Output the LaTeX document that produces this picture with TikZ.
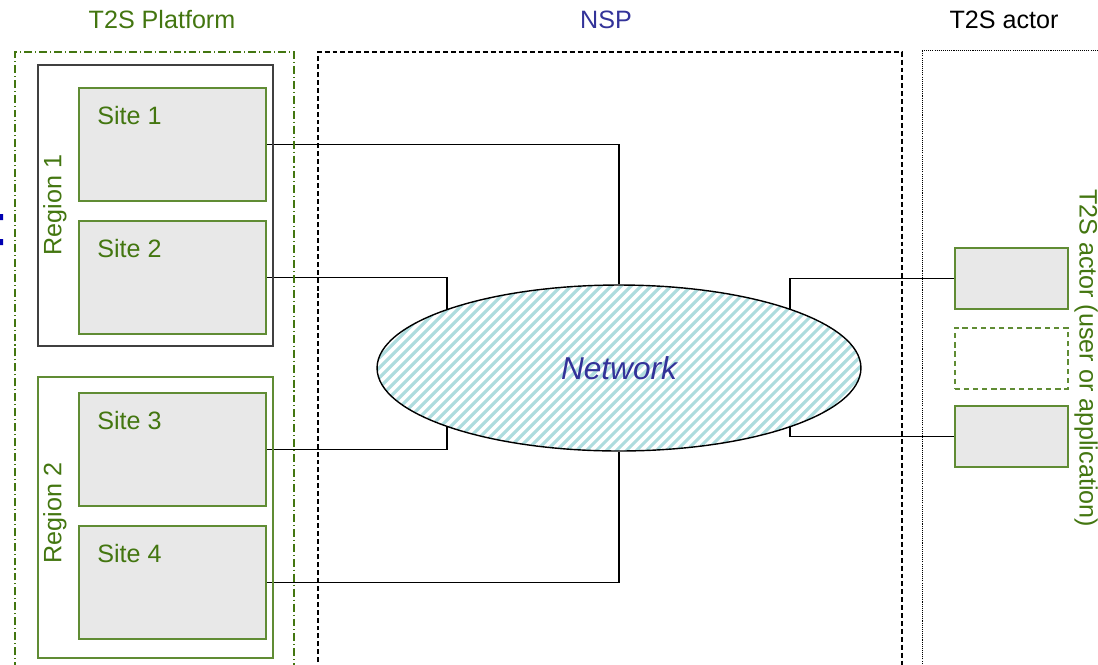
\documentclass[tikz,border=0pt]{standalone}
\usepackage{fontspec}
\setmainfont{Liberation Sans}
\usepackage{xcolor}
\usepackage{tikz}
\usetikzlibrary{shapes.geometric,calc,positioning}
\definecolor{platgreen}{RGB}{67,118,16}
\definecolor{edgegreen}{RGB}{96,140,52}
\definecolor{nspblue}{RGB}{51,51,153}
\definecolor{sitegray}{RGB}{232,232,232}
\definecolor{stripeteal}{RGB}{174,220,222}
\definecolor{regiongray}{RGB}{64,64,64}
\pgfdeclarelayer{background}
\pgfsetlayers{background,main}

\begin{document}
\begin{tikzpicture}[x=0.02cm,y=-0.02cm,
    txt/.style={font=\fontsize{14.3}{17}\selectfont},
    site/.style={draw=edgegreen,line width=0.9pt,fill=sitegray,anchor=north west,
      inner sep=0,minimum width=3.74cm,minimum height=2.26cm},
    sitelabel/.style={txt,text=platgreen,inner sep=0,anchor=north west},
    actorbox/.style={draw=edgegreen,line width=0.9pt,fill=sitegray,anchor=north west,
      inner sep=0,minimum width=2.26cm,minimum height=1.22cm},
    link/.style={line width=0.8pt,black},
    stripe/.style={line width=1.8pt,stripeteal}]
    \clip (0,0) rectangle (1098,664);
    % column titles
    \node[txt,text=platgreen] (platT) at (162,20) {T2S Platform};
    \node[txt,text=nspblue] (nspT) at (606,20) {NSP};
    \node[txt] (actorT) at (1004,20) {T2S actor};
    % frames, open at the bottom
    \draw[platgreen,line width=0.6pt,dash pattern=on 4.5pt off 1.7pt on 0.6pt off 1.7pt]
      (15,670) |- (294,52) -- (294,670);
    \draw[black,line width=0.6pt,dash pattern=on 2.8pt off 1.7pt] (318,670) |- (902,52) -- (902,670);
    \draw[black,line width=0.5pt,dash pattern=on 0.6pt off 0.6pt] (922,670) |- (1110,50);
    \fill[blue!70!black] (0,214) rectangle (3,220) (0,239) rectangle (3,245);
    % regions
    \draw[regiongray,line width=1.1pt] (38,65) rectangle (273,346);
    \draw[edgegreen,line width=0.9pt] (38,377) rectangle (273,658);
    \node[txt,text=platgreen,rotate=90] (reg1) at (55,205) {Region 1};
    \node[txt,text=platgreen,rotate=90] (reg2) at (55,513) {Region 2};
    % sites
    \foreach \n/\y in {1/87,2/220,3/392,4/525} {
      \node[site] (s\n) at (78,\y) {};
      \node[sitelabel] (s\n lab) at (97,106) [yshift={-(\y-87)*0.02cm}] {Site \n};
    }
    % actor side
    \node[actorbox] (a1) at (954,247) {};
    \node[actorbox,fill=none,dash pattern=on 3pt off 2.2pt] (a2) at (954,327) {};
    \node[actorbox] (a3) at (954,405) {};
    \node[txt,text=platgreen,rotate=-90] (actorlab) at (1086,358) {T2S actor (user or application)};
    % network cloud
    \node[ellipse,draw,fill=white,line width=0.8pt,inner sep=0,minimum width=9.68cm,minimum height=3.32cm,
      path picture={\foreach \k in {-36,...,36}
        \draw[stripe] ($(path picture bounding box.center)+(\k*0.2cm-2.4cm,-2.4cm)$) -- ++(4.8cm,4.8cm);},
      font=\fontsize{18}{22}\selectfont\itshape,text=nspblue] (net) at (619,368) {Network};
    \begin{pgfonlayer}{background}
      \draw[link] (s1.east) -| (net.north);
      \draw[link] (s2.east) -| ($(net.center)+(-172,0)$);
      \draw[link] (s3.east) -| ($(net.center)+(-172,0)$);
      \draw[link] (s4.east) -| (net.south);
      \draw[link] (a1.west) -| ($(net.center)+(171,0)$);
      \draw[link] (a3.west) -| ($(net.center)+(171,0)$);
    \end{pgfonlayer}
  \end{tikzpicture}
\end{document}
